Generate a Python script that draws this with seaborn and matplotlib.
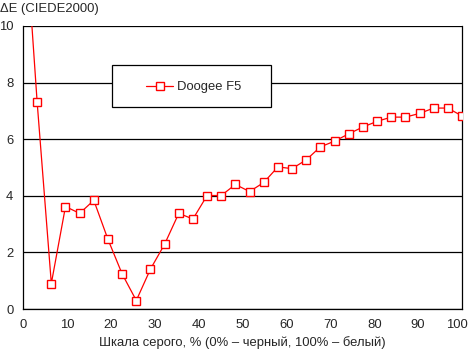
import numpy as np
import pandas as pd
import matplotlib
matplotlib.use("Agg")
import matplotlib.pyplot as plt
import matplotlib.transforms as mtransforms
import seaborn as sns
from matplotlib.patches import Rectangle
from matplotlib.lines import Line2D

gray_pct = [i * 100 / 31 for i in range(32)]
delta_e = [14.6, 7.3, 0.90, 3.62, 3.38, 3.84, 2.46, 1.24, 0.30, 1.41,
           2.29, 3.38, 3.18, 4.01, 4.01, 4.40, 4.15, 4.47, 5.02, 4.96,
           5.27, 5.73, 5.93, 6.19, 6.43, 6.63, 6.78, 6.78, 6.91, 7.10,
           7.10, 6.82]
series_name = "Doogee F5"
x_ticks = [0, 10, 20, 30, 40, 50, 60, 70, 80, 90, 100]
y_ticks = [0, 2, 4, 6, 8, 10]
x_label = "Шкала серого, % (0% – черный, 100% – белый)"
y_label = "ΔE (CIEDE2000)"

df = pd.DataFrame({"x": gray_pct, "y": delta_e, "s": series_name})

FS = 9.4
sns.set_style("white")
plt.rcParams["font.family"] = ["Liberation Sans", "DejaVu Sans"]
plt.rcParams["font.size"] = FS

fig = plt.figure(figsize=(4.72, 3.52), dpi=100)
ax = fig.add_axes([23 / 472, 1 - 309 / 352, (462 - 23) / 472, (309 - 26) / 352])

sns.lineplot(data=df, x="x", y="y", ax=ax, color="#ff0000", lw=0.9,
             marker="s", markersize=6.2, markerfacecolor="white",
             markeredgecolor="#ff0000", markeredgewidth=1.0, legend=False,
             zorder=3)

ax.set_xlim(0, 100)
ax.set_ylim(0, 10)
ax.set_xticks(x_ticks)
ax.set_yticks(y_ticks)
ax.yaxis.grid(True, color="black", lw=0.9)
ax.xaxis.grid(False)
ax.set_axisbelow(True)
for side in ["left", "bottom", "right"]:
    ax.spines[side].set_visible(True)
    ax.spines[side].set_color("black")
    ax.spines[side].set_linewidth(0.9)
ax.spines["top"].set_visible(False)
ax.tick_params(axis="both", direction="out", length=4, width=0.9, color="black",
               labelsize=FS, pad=3)
ax.set_xlabel(x_label, fontsize=FS, labelpad=4)
ax.set_ylabel("")
fig.text(0.0, 1 - 9 / 352, y_label, ha="left", va="center", fontsize=FS)

# shift last x tick label a little left, as in the reference
fig.canvas.draw()
last = ax.get_xticklabels()[-1]
last.set_transform(last.get_transform() +
                   mtransforms.ScaledTranslation(-5 / 100, 0, fig.dpi_scale_trans))

# legend box
rect = Rectangle((112 / 472, 1 - 107 / 352), (271 - 112) / 472, (107 - 65) / 352,
                 transform=fig.transFigure, facecolor="white", edgecolor="black",
                 lw=0.9, zorder=5)
rect.set_clip_on(False)
ax.add_patch(rect)
h = Line2D([], [], color="#ff0000", lw=0.9, marker="s", markersize=6.2,
           markerfacecolor="white", markeredgecolor="#ff0000", markeredgewidth=1.0)
leg = ax.legend([h], [series_name], loc="center left",
                bbox_to_anchor=(146 / 472, 1 - 87 / 352), bbox_transform=fig.transFigure,
                frameon=False, handlelength=2.1, handletextpad=0.3, borderpad=0,
                borderaxespad=0, fontsize=FS)
leg.set_zorder(6)

fig.savefig("out.png", dpi=100)
